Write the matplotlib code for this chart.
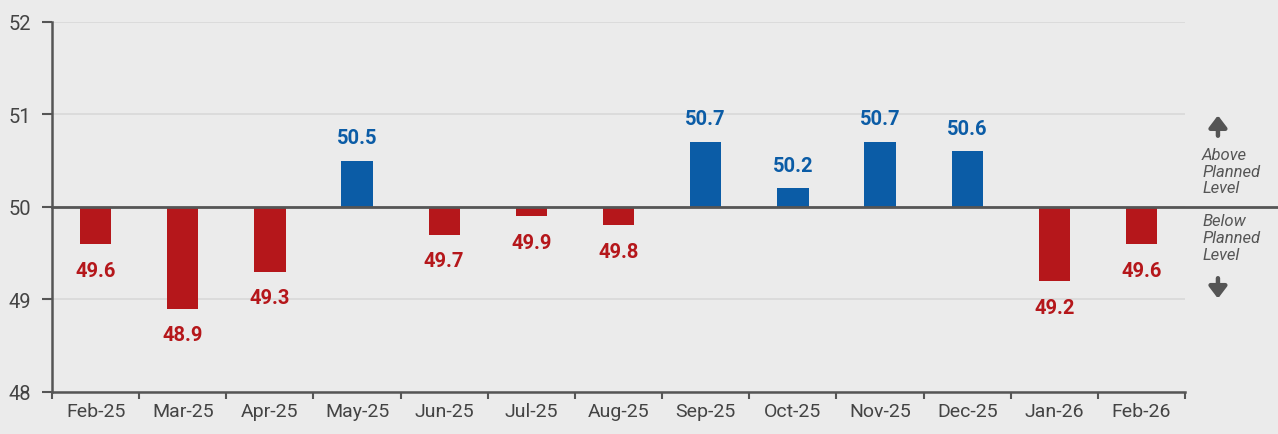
import numpy as np
import matplotlib.pyplot as plt

months = ['Feb-25', 'Mar-25', 'Apr-25', 'May-25', 'Jun-25', 'Jul-25', 'Aug-25',
          'Sep-25', 'Oct-25', 'Nov-25', 'Dec-25', 'Jan-26', 'Feb-26']
values = [49.6, 48.9, 49.3, 50.5, 49.7, 49.9, 49.8, 50.7, 50.2, 50.7, 50.6, 49.2, 49.6]
base = 50.0

red = '#B5171B'
blue = '#0B5CA6'
bg = '#EBEBEB'
dark = '#555555'

plt.rcParams['font.family'] = ['Roboto', 'DejaVu Sans']

fig = plt.figure(figsize=(12.78, 4.35), dpi=100, facecolor=bg)
ax = fig.add_axes([0.0407, 0.0966, 0.8866, 0.8506], facecolor=bg)

x = np.arange(len(months))
vals = np.array(values)
cols = [blue if v >= base else red for v in vals]
ax.bar(x, vals - base, bottom=base, width=0.36, color=cols, zorder=3)

for xi, v, c in zip(x, vals, cols):
    if v >= base:
        ax.text(xi, v + 0.15, f'{v:.1f}', ha='center', va='bottom', color=c,
                fontsize=14.5, fontweight='bold')
    else:
        ax.text(xi, v - 0.18, f'{v:.1f}', ha='center', va='top', color=c,
                fontsize=14.5, fontweight='bold')

ax.set_xlim(-0.5, len(months) - 0.5)
ax.set_ylim(48, 52)
ax.set_yticks([48, 49, 50, 51, 52])
ax.set_yticklabels(['48', '49', '50', '51', '52'])
ax.grid(axis='y', color='#D8D8D8', linewidth=1.2, zorder=0)

ax.set_xticks(x)
ax.set_xticklabels(months)
ax.set_xticks(np.arange(-0.5, len(months)), minor=True)
ax.tick_params(axis='x', which='major', length=0, labelsize=14, labelcolor='#444444', pad=7)
ax.tick_params(axis='x', which='minor', length=5, color=dark, width=1.5, direction='out')
ax.tick_params(axis='y', length=7, color=dark, width=1.5, labelsize=14.5, labelcolor='#444444', pad=8)

for s in ['top', 'right']:
    ax.spines[s].set_visible(False)
for s in ['left', 'bottom']:
    ax.spines[s].set_color(dark)
    ax.spines[s].set_linewidth(1.8)

ax.axhline(base, xmin=0, xmax=1.083, color=dark, linewidth=2, clip_on=False, zorder=4)

# side notes
arrow = dict(arrowstyle='-|>,head_width=0.38,head_length=0.5', color=dark, lw=3.2,
             mutation_scale=14, shrinkA=0, shrinkB=0)
ax.annotate('', xy=(1.029, 50.99), xytext=(1.029, 50.77), xycoords=('axes fraction', 'data'),
            arrowprops=arrow, annotation_clip=False)
ax.annotate('', xy=(1.029, 49.01), xytext=(1.029, 49.23), xycoords=('axes fraction', 'data'),
            arrowprops=arrow, annotation_clip=False)
ax.text(1.015, 50.65, 'Above\nPlanned\nLevel', transform=ax.get_yaxis_transform(),
        ha='left', va='top', fontsize=12, style='italic', color='#555555', linespacing=1.15)
ax.text(1.015, 49.93, 'Below\nPlanned\nLevel', transform=ax.get_yaxis_transform(),
        ha='left', va='top', fontsize=12, style='italic', color='#555555', linespacing=1.15)

plt.savefig('out.png', dpi=100, facecolor=bg)
